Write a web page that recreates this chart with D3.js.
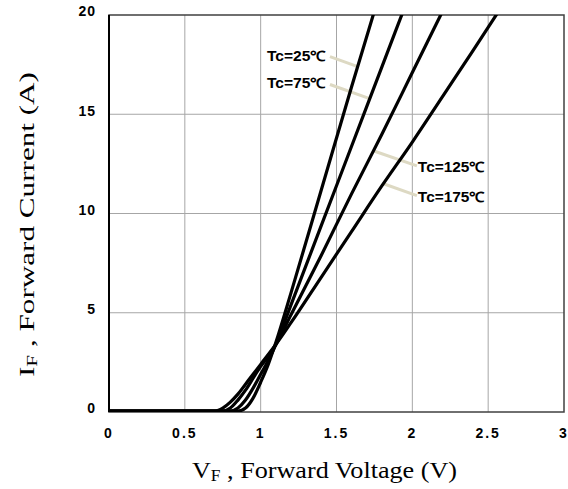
<!DOCTYPE html>
<html>
<head>
<meta charset="utf-8">
<script src="https://cdn.jsdelivr.net/npm/d3@7"></script>
<style>
  body { margin: 0; background: #fff; }
</style>
</head>
<body>
<div id="chart"></div>
<script>
  // forward voltage (V) / forward current (A)
  const tc25 = [[0, 0.05], [0.85, 0.05], [0.9, 0.2], [0.95, 0.7], [1.0, 1.5], [1.05, 2.4], [1.1, 3.5], [1.2, 6.0], [1.4, 11.2], [1.6, 16.4], [1.75, 20.2]]
  const tc75 = [[0, 0.05], [0.8, 0.05], [0.85, 0.2], [0.9, 0.6], [0.95, 1.2], [1.0, 1.9], [1.05, 2.6], [1.1, 3.4], [1.2, 5.4], [1.4, 9.4], [1.6, 13.4], [1.8, 17.4], [1.94, 20.2]]
  const tc125 = [[0, 0.05], [0.75, 0.05], [0.8, 0.2], [0.85, 0.6], [0.9, 1.1], [0.95, 1.7], [1.0, 2.3], [1.05, 2.8], [1.1, 3.4], [1.2, 4.9], [1.4, 7.9], [1.6, 11.0], [1.8, 14.0], [2.0, 17.1], [2.2, 20.2]]
  const tc175 = [[0, 0.05], [0.7, 0.05], [0.75, 0.2], [0.8, 0.5], [0.85, 0.9], [0.9, 1.4], [0.95, 1.9], [1.0, 2.4], [1.1, 3.4], [1.2, 4.5], [1.4, 6.8], [1.6, 9.1], [1.8, 11.4], [2.0, 13.6], [2.2, 15.9], [2.4, 18.2], [2.57, 20.2]]

  const xTicks = [0, 0.5, 1, 1.5, 2, 2.5, 3]
  const xTickLabels = ["0", "0.5", "1", "1.5", "2", "2.5", "3"]
  const yTicks = [0, 5, 10, 15, 20]

  // label text, leader line from [V, I] to [V, I], label sits at the left or right end
  const labelNames = ["Tc=25℃", "Tc=75℃", "Tc=125℃", "Tc=175℃"]
  const leaders = [
    [[1.457, 17.9], [1.64, 17.4]],
    [[1.457, 16.5], [1.714, 15.8]],
    [[1.747, 13.15], [2.03, 12.4]],
    [[1.81, 11.5], [2.03, 10.9]],
  ]
  const labelSide = ["left", "left", "right", "right"]

  const width = 568
  const height = 489
  const margin = { top: 15, right: 4, bottom: 77, left: 109 }

  const svg = d3.select("#chart")
    .append("svg")
    .attr("width", width)
    .attr("height", height)

  const x = d3.scaleLinear().domain([0, 3]).range([margin.left, width - margin.right])
  const y = d3.scaleLinear().domain([0, 20]).range([height - margin.bottom, margin.top])

  svg.append("defs").append("clipPath")
      .attr("id", "plot")
    .append("rect")
      .attr("x", margin.left)
      .attr("y", margin.top)
      .attr("width", x(3) - x(0))
      .attr("height", y(0) - y(20))

  // grid
  const grid = svg.append("g").attr("stroke", "#a6a6a6").attr("stroke-width", 1)
  grid.selectAll(".vx")
    .data(xTicks.slice(1, -1))
    .join("line")
      .attr("x1", d => x(d)).attr("x2", d => x(d))
      .attr("y1", y(0)).attr("y2", y(20))
  grid.selectAll(".hy")
    .data(yTicks.slice(1, -1))
    .join("line")
      .attr("x1", x(0)).attr("x2", x(3))
      .attr("y1", d => y(d)).attr("y2", d => y(d))

  // frame
  svg.append("rect")
    .attr("x", x(0))
    .attr("y", y(20))
    .attr("width", x(3) - x(0))
    .attr("height", y(0) - y(20))
    .attr("fill", "none")
    .attr("stroke", "#404040")
    .attr("stroke-width", 1.5)

  svg.append("line")
    .attr("x1", x(0)).attr("x2", x(0))
    .attr("y1", y(0)).attr("y2", y(20))
    .attr("stroke", "#000").attr("stroke-width", 2)

  // tick labels
  svg.append("g")
      .attr("font-family", "Liberation Sans, Arial, sans-serif")
      .attr("font-weight", "bold")
      .attr("font-size", 14)
    .selectAll("text")
    .data(xTicks)
    .join("text")
      .attr("x", d => x(d))
      .attr("y", y(0) + 26)
      .attr("text-anchor", "middle")
      .attr("letter-spacing", 2)
      .text((d, i) => xTickLabels[i])

  svg.append("g")
      .attr("font-family", "Liberation Sans, Arial, sans-serif")
      .attr("font-weight", "bold")
      .attr("font-size", 14)
    .selectAll("text")
    .data(yTicks)
    .join("text")
      .attr("x", x(0) - 13)
      .attr("y", d => y(d))
      .attr("dy", "0.1em")
      .attr("text-anchor", "end")
      .attr("letter-spacing", 1)
      .text(d => d)

  // leaders
  svg.append("g")
      .attr("stroke", "#ddd9c3")
      .attr("stroke-width", 3)
    .selectAll("line")
    .data(leaders)
    .join("line")
      .attr("x1", d => x(d[0][0])).attr("y1", d => y(d[0][1]))
      .attr("x2", d => x(d[1][0])).attr("y2", d => y(d[1][1]))

  // curves
  const line = d3.line()
    .x(d => x(d[0]))
    .y(d => y(d[1]))
    .curve(d3.curveMonotoneX)

  svg.append("g")
      .attr("clip-path", "url(#plot)")
      .attr("fill", "none")
      .attr("stroke", "#000")
      .attr("stroke-width", 3.2)
      .attr("stroke-linejoin", "round")
    .selectAll("path")
    .data([tc25, tc75, tc125, tc175])
    .join("path")
      .attr("d", line)

  // curve labels
  svg.append("g")
      .attr("font-family", "Liberation Sans, Arial, sans-serif")
      .attr("font-weight", "bold")
      .attr("font-size", 14)
    .selectAll("text")
    .data(leaders)
    .join("text")
      .attr("x", (d, i) => labelSide[i] === "left" ? x(d[0][0]) - 63 : x(d[1][0]) + 1)
      .attr("y", (d, i) => labelSide[i] === "left" ? y(d[0][1]) - 1 : y(d[1][1]) + 1)
      .attr("dy", "0.35em")
      .attr("textLength", (d, i) => labelSide[i] === "left" ? 59 : 67)
      .attr("lengthAdjust", "spacingAndGlyphs")
      .text((d, i) => labelNames[i])

  // axis titles
  const xTitle = svg.append("text")
    .attr("x", 192)
    .attr("y", 478)
    .attr("textLength", 265)
    .attr("lengthAdjust", "spacingAndGlyphs")
    .attr("font-family", "Liberation Serif, Times New Roman, serif")
    .attr("font-size", 24)
  xTitle.append("tspan").text("V")
  xTitle.append("tspan").attr("font-size", 16).attr("dy", 3).text("F")
  xTitle.append("tspan").attr("dy", -3).text(" , Forward Voltage (V)")

  const yTitle = svg.append("text")
    .attr("transform", `translate(34,377) rotate(-90)`)
    .attr("textLength", 305)
    .attr("lengthAdjust", "spacingAndGlyphs")
    .attr("font-family", "Liberation Serif, Times New Roman, serif")
    .attr("font-size", 22)
  yTitle.append("tspan").text("I")
  yTitle.append("tspan").attr("font-size", 15).attr("dy", 3).text("F")
  yTitle.append("tspan").attr("dy", -3).text(" , Forward Current (A)")
</script>
</body>
</html>
